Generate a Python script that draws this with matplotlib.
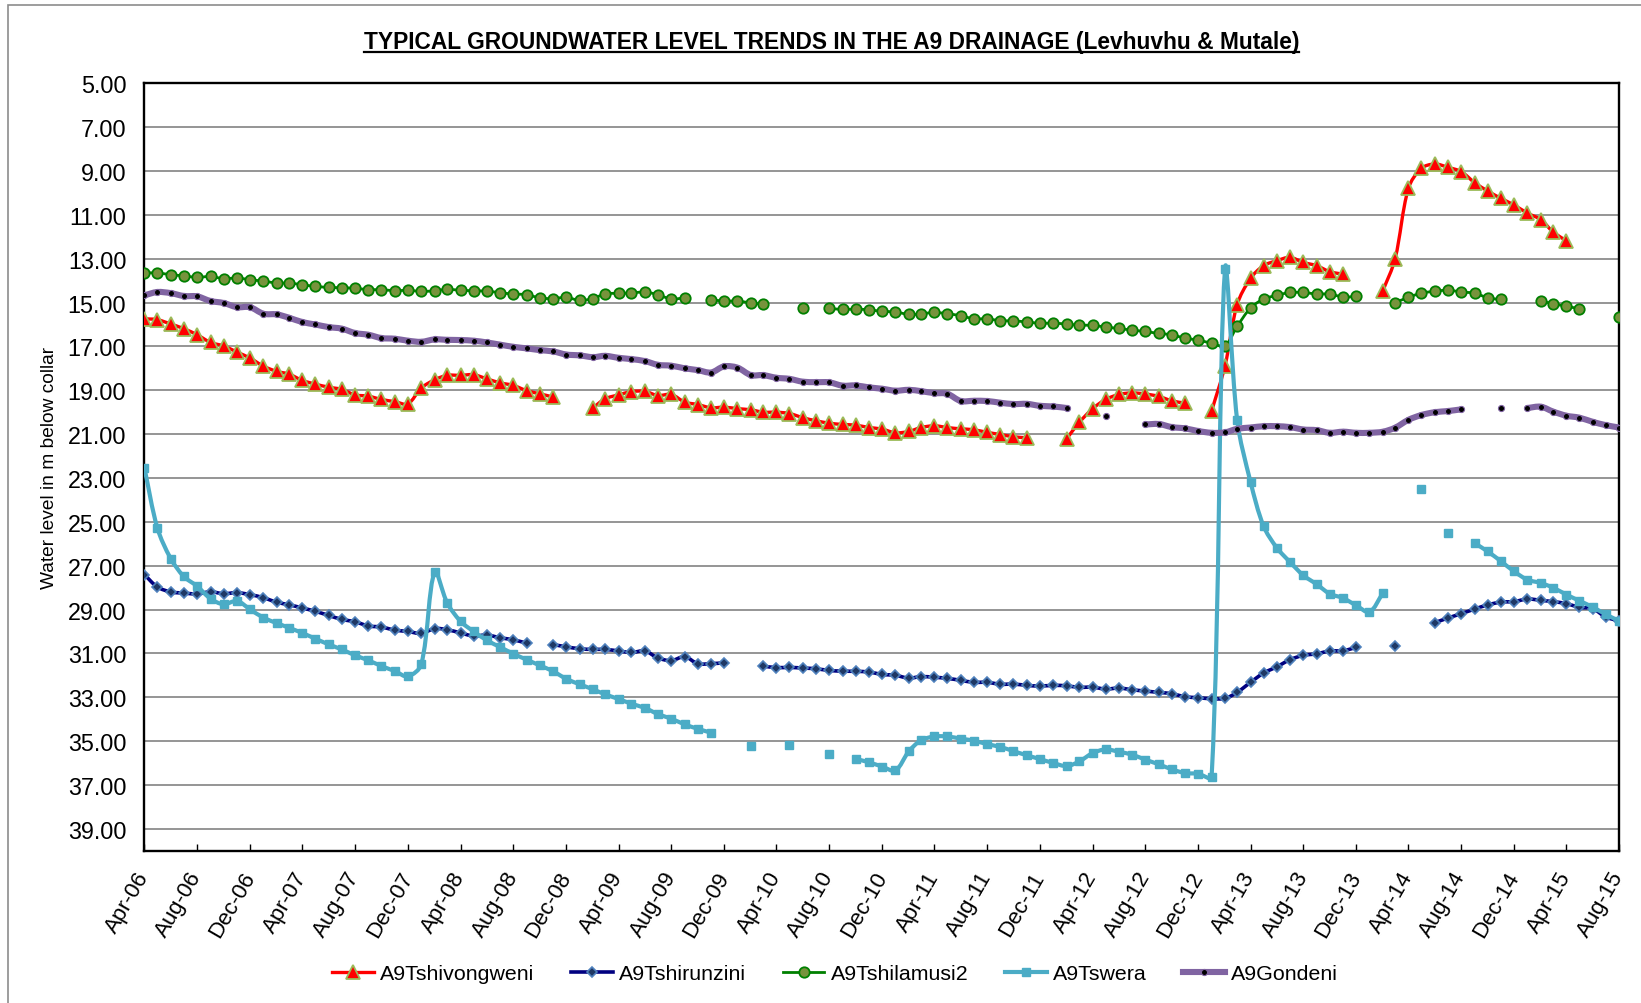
import numpy as np
import pandas as pd
import matplotlib
matplotlib.use("Agg")
import matplotlib.pyplot as plt
import matplotlib.dates as mdates
from matplotlib.path import Path
from matplotlib.patches import PathPatch, Rectangle
from matplotlib.lines import Line2D
from matplotlib import font_manager

N = None
# ---------------- data (water level, m below collar), monthly Apr-06 .. Aug-15 ----------------
start_month = "2006-04-01"
end_month = "2015-08-01"

tshivongweni = [15.74, 15.78, 15.98, 16.19, 16.47, 16.82, 16.98, 17.26, 17.53, 17.90,
                18.14, 18.26, 18.55, 18.72, 18.86, 18.96, 19.21, 19.27, 19.42, 19.52,
                19.62, 18.90, 18.52, 18.32, 18.32, 18.29, 18.48, 18.66, 18.78, 19.02,
                19.16, 19.31, N, N, 19.80, 19.39, 19.21, 19.06, 19.05, 19.24,
                19.19, 19.54, 19.65, 19.80, 19.77, 19.84, 19.89, 20.00, 20.00, 20.06,
                20.25, 20.39, 20.50, 20.56, 20.59, 20.70, 20.77, 20.94, 20.88, 20.70,
                20.62, 20.70, 20.76, 20.80, 20.92, 21.02, 21.12, 21.17, N, N,
                21.21, 20.47, 19.84, 19.42, 19.19, 19.12, 19.17, 19.28, 19.48, 19.59,
                N, 19.95, 17.88, 15.10, 13.90, 13.32, 13.09, 12.94, 13.17, 13.32,
                13.59, 13.71, N, N, 14.46, 13.02, 9.79, 8.88, 8.68, 8.83,
                9.03, 9.53, 9.91, 10.25, 10.55, 10.92, 11.22, 11.77, 12.19, N,
                N, N, N]

tshirunzini = [27.41, 27.97, 28.20, 28.25, 28.29, 28.19, 28.28, 28.23, 28.32, 28.46,
               28.67, 28.78, 28.93, 29.08, 29.27, 29.45, 29.56, 29.75, 29.80, 29.94,
               30.00, 30.09, 29.87, 29.92, 30.07, 30.21, 30.16, 30.29, 30.38, 30.54,
               N, 30.60, 30.70, 30.79, 30.82, 30.82, 30.89, 30.96, 30.89, 31.21,
               31.33, 31.15, 31.47, 31.47, 31.43, N, N, 31.58, 31.65, 31.64,
               31.67, 31.70, 31.78, 31.81, 31.82, 31.85, 31.96, 32.00, 32.13, 32.06,
               32.09, 32.14, 32.23, 32.32, 32.32, 32.41, 32.40, 32.46, 32.49, 32.46,
               32.48, 32.55, 32.54, 32.63, 32.58, 32.66, 32.72, 32.78, 32.84, 32.98,
               33.02, 33.07, 33.05, 32.78, 32.32, 31.90, 31.61, 31.29, 31.09, 31.02,
               30.89, 30.88, 30.73, N, N, 30.65, N, N, 29.60, 29.39,
               29.19, 28.98, 28.79, 28.66, 28.64, 28.52, 28.58, 28.64, 28.73, 28.90,
               28.96, 29.34, 29.52]

tshilamusi2 = [13.65, 13.65, 13.73, 13.78, 13.85, 13.81, 13.91, 13.88, 13.96, 14.02,
               14.11, 14.11, 14.19, 14.26, 14.31, 14.32, 14.35, 14.41, 14.41, 14.46,
               14.44, 14.49, 14.46, 14.40, 14.44, 14.46, 14.48, 14.55, 14.61, 14.64,
               14.79, 14.82, 14.76, 14.90, 14.82, 14.60, 14.58, 14.56, 14.52, 14.64,
               14.84, 14.78, N, 14.87, 14.93, 14.93, 15.02, 15.07, N, N,
               15.27, N, 15.27, 15.31, 15.30, 15.33, 15.40, 15.43, 15.54, 15.52,
               15.45, 15.51, 15.60, 15.74, 15.74, 15.83, 15.83, 15.89, 15.94, 15.94,
               15.98, 16.03, 16.04, 16.12, 16.18, 16.26, 16.32, 16.41, 16.47, 16.63,
               16.71, 16.86, 16.97, 16.09, 15.25, 14.84, 14.67, 14.54, 14.54, 14.61,
               14.61, 14.75, 14.72, N, N, 15.01, 14.76, 14.57, 14.49, 14.43,
               14.52, 14.57, 14.78, 14.86, N, N, 14.93, 15.05, 15.17, 15.28,
               N, N, 15.68]

tswera = [22.54, 25.28, 26.68, 27.49, 27.94, 28.51, 28.76, 28.61, 28.99, 29.37,
          29.62, 29.83, 30.07, 30.33, 30.59, 30.82, 31.09, 31.32, 31.58, 31.81,
          32.05, 31.50, 27.29, 28.70, 29.54, 30.00, 30.41, 30.71, 31.02, 31.29,
          31.55, 31.82, 32.16, 32.41, 32.64, 32.87, 33.08, 33.30, 33.49, 33.77,
          33.98, 34.24, 34.44, 34.62, N, N, 35.23, N, N, 35.20,
          N, N, 35.59, N, 35.81, 35.97, 36.16, 36.34, 35.47, 34.97,
          34.79, 34.79, 34.89, 34.98, 35.14, 35.27, 35.46, 35.65, 35.82, 36.00,
          36.14, 35.93, 35.55, 35.38, 35.49, 35.62, 35.85, 36.06, 36.29, 36.46,
          36.49, 36.64, 13.47, 20.35, 23.18, 25.19, 26.19, 26.83, 27.44, 27.85,
          28.28, 28.48, 28.81, 29.11, 28.25, N, N, 23.49, N, 25.51,
          N, 25.97, 26.35, 26.80, 27.26, 27.64, 27.79, 28.00, 28.32, 28.60,
          28.89, 29.22, 29.52]

gondeni = [14.67, 14.52, 14.57, 14.70, 14.72, 14.93, 15.02, 15.21, 15.21, 15.51,
           15.54, 15.69, 15.89, 16.00, 16.12, 16.19, 16.39, 16.47, 16.62, 16.65,
           16.74, 16.79, 16.68, 16.70, 16.71, 16.74, 16.82, 16.92, 17.02, 17.09,
           17.17, 17.23, 17.37, 17.41, 17.49, 17.43, 17.52, 17.58, 17.67, 17.84,
           17.88, 18.00, 18.08, 18.19, 17.91, 17.97, 18.31, 18.31, 18.43, 18.48,
           18.61, 18.63, 18.64, 18.79, 18.78, 18.87, 18.93, 19.02, 18.98, 19.04,
           19.13, 19.16, 19.49, 19.48, 19.49, 19.57, 19.63, 19.62, 19.71, 19.74,
           19.81, N, N, 20.16, N, N, 20.56, 20.54, 20.68, 20.74,
           20.86, 20.94, 20.92, 20.76, 20.70, 20.64, 20.64, 20.68, 20.79, 20.82,
           20.94, 20.89, 20.94, 20.94, 20.89, 20.71, 20.35, 20.13, 20.00, 19.95,
           19.87, N, N, 19.81, N, 19.81, 19.75, 19.97, 20.16, 20.25,
           20.44, 20.59, 20.70]

series_names = ["A9Tshivongweni", "A9Tshirunzini", "A9Tshilamusi2", "A9Tswera", "A9Gondeni"]
y_ticks = [5, 7, 9, 11, 13, 15, 17, 19, 21, 23, 25, 27, 29, 31, 33, 35, 37, 39]
title_text = "TYPICAL GROUNDWATER LEVEL TRENDS IN THE A9 DRAINAGE (Levhuvhu & Mutale)"
y_label = "Water level in m below collar"

# ---------------- styles ----------------
styles = [
    dict(color="#FF0000", lw=2.4, marker="^", ms=10, mfc="#FF0000", mec="#9BBB59", mew=1.3),
    dict(color="#000080", lw=2.6, marker="D", ms=5.2, mfc="#1F3864", mec="#4F81BD", mew=1.2),
    dict(color="#008000", lw=2.0, marker="o", ms=7.5, mfc="#77933C", mec="#008000", mew=1.3),
    dict(color="#4BACC6", lw=3.0, marker="s", ms=5.5, mfc="#4BACC6", mec="#4BACC6", mew=1.0),
    dict(color="#8064A2", lw=4.4, marker="o", ms=4.4, mfc="#000000", mec="#8064A2", mew=0.8),
]

avail = {f.name for f in font_manager.fontManager.ttflist}
body_font = "Liberation Sans" if "Liberation Sans" in avail else "DejaVu Sans"
title_font = "Liberation Sans Narrow" if "Liberation Sans Narrow" in avail else body_font
plt.rcParams["font.family"] = [body_font, "DejaVu Sans"]

W, H = 1641, 1004
fig = plt.figure(figsize=(W / 100, H / 100), dpi=100)
fig.patch.set_facecolor("white")

left, right, top, bottom = 144.4, 1619.1, 84.3, 851.7
ax = fig.add_axes([left / W, 1 - bottom / H, (right - left) / W, (bottom - top) / H])

months = pd.date_range(start_month, end_month, freq="MS")
xd = mdates.date2num(months.to_pydatetime())

ax.set_xlim(xd[0], xd[-1])
ax.set_ylim(40, 5)


def smooth_path(xs, ys):
    """Excel-like smoothed line: cubic Bezier with chord-length weighted tangents."""
    P = np.column_stack([xs, ys])
    D = ax.transData.transform(P)
    n = len(P)
    verts = [P[0]]
    codes = [Path.MOVETO]
    for i in range(n - 1):
        i0 = max(i - 1, 0)
        i3 = min(i + 2, n - 1)
        d01 = np.hypot(*(D[i] - D[i0]))
        d12 = np.hypot(*(D[i + 1] - D[i]))
        d23 = np.hypot(*(D[i3] - D[i + 1]))
        w1 = d12 / (d01 + d12) if d01 + d12 > 0 else 0.5
        w2 = d12 / (d12 + d23) if d12 + d23 > 0 else 0.5
        c1 = P[i] + (P[i + 1] - P[i0]) * w1 / 3.0
        c2 = P[i + 1] - (P[i3] - P[i]) * w2 / 3.0
        verts += [c1, c2, P[i + 1]]
        codes += [Path.CURVE4] * 3
    return Path(verts, codes)


all_series = [tshivongweni, tshirunzini, tshilamusi2, tswera, gondeni]
handles = []
for k, (vals, st) in enumerate(zip(all_series, styles)):
    y = np.array([np.nan if v is None else v for v in vals], dtype=float)
    z = 3 + k
    idx = np.where(~np.isnan(y))[0]
    if len(idx):
        breaks = np.where(np.diff(idx) > 1)[0]
        for seg in np.split(idx, breaks + 1):
            if len(seg) >= 2:
                pp = PathPatch(smooth_path(xd[seg], y[seg]), fill=False, edgecolor=st["color"],
                               lw=st["lw"], capstyle="round", joinstyle="round", zorder=z)
                ax.add_patch(pp)
    ax.plot(xd, y, linestyle="none", marker=st["marker"], ms=st["ms"], mfc=st["mfc"],
            mec=st["mec"], mew=st["mew"], zorder=z + 0.5)
    handles.append(Line2D([], [], color=st["color"], lw=st["lw"], marker=st["marker"],
                          ms=st["ms"], mfc=st["mfc"], mec=st["mec"], mew=st["mew"]))

ax.set_yticks(y_ticks)
ax.set_yticklabels([f"{v:.2f}" for v in y_ticks])
ax.yaxis.grid(True, color="#8C8C8C", lw=1.3, zorder=1)
ax.set_axisbelow(True)
ax.xaxis.set_major_locator(mdates.MonthLocator(bymonth=[4, 8, 12]))
ax.xaxis.set_major_formatter(mdates.DateFormatter("%b-%y"))
ax.tick_params(axis="y", length=0, pad=13, labelsize=16.8)
ax.tick_params(axis="x", direction="in", length=5, width=1.0, pad=16, labelsize=16)
for lab in ax.get_xticklabels():
    lab.set_rotation(60)
    lab.set_ha("right")
    lab.set_va("center")
    lab.set_rotation_mode("anchor")
for sp in ax.spines.values():
    sp.set_linewidth(1.7)
    sp.set_color("black")

fig.text(50 / W, 1 - 468 / H, y_label, rotation=90, ha="center", va="center", fontsize=13.8)

t = fig.text(831.6 / W, 1 - 48.5 / H, title_text, ha="center", va="baseline",
             fontsize=17, fontweight="bold", family=[title_font, "DejaVu Sans"])
fig.canvas.draw()
bb = t.get_window_extent()
target_w = 941.0
t.set_fontsize(17 * target_w / bb.width)
fig.canvas.draw()
bb = t.get_window_extent()
uy = 1 - 52.5 / H
fig.add_artist(Line2D([bb.x0 / W, bb.x1 / W], [uy, uy], transform=fig.transFigure,
                      color="black", lw=1.6))

fig.legend(handles, series_names, loc="center", bbox_to_anchor=(0.509, 0.029), ncol=5,
           frameon=False, fontsize=15.4, handlelength=1.95, handletextpad=0.3,
           columnspacing=1.7)

fig.add_artist(Rectangle((8 / W, -0.1), 2.0, (1 - 6 / H) + 0.1, transform=fig.transFigure,
                         fill=False, edgecolor="#8C8C8C", lw=1.2))

fig.savefig("out.png", dpi=100, facecolor="white")
